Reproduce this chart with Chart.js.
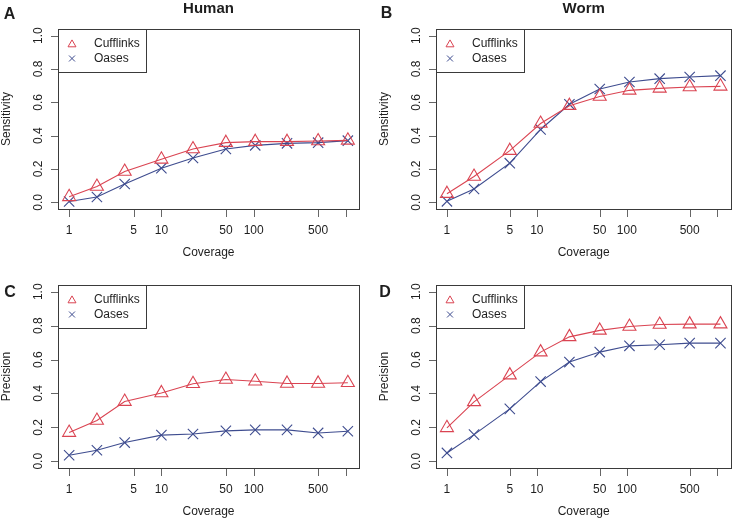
<!DOCTYPE html>
<html><head><meta charset="utf-8">
<script src="https://cdn.jsdelivr.net/npm/chart.js@4.4.1/dist/chart.umd.min.js"></script>
<style>
html,body{margin:0;padding:0;background:#fff;}
#wrap{position:relative;width:740px;height:522px;background:#fff;}
.p{position:absolute;width:370px;height:261px;}
canvas{display:block;}
</style></head><body>
<div id="wrap">
<div class="p" style="left:0;top:0"><canvas id="cA" width="370" height="261"></canvas></div>
<div class="p" style="left:370px;top:0"><canvas id="cB" width="370" height="261"></canvas></div>
<div class="p" style="left:0;top:261px"><canvas id="cC" width="370" height="261"></canvas></div>
<div class="p" style="left:370px;top:261px"><canvas id="cD" width="370" height="261"></canvas></div>
</div>
<script>
// ---- data ----
const humanCoverage = [1, 2, 4, 10, 22, 50, 104, 230, 500, 1050];
const wormCoverage  = [1, 2, 5, 11, 23, 50, 107, 232, 500, 1100];
const xTicks = [1, 5, 10, 50, 100, 500, 1000];
const xTickLabels = ['1', '5', '10', '50', '100', '500', ''];
const yTicks = [0, 0.2, 0.4, 0.6, 0.8, 1.0];
const yTickLabels = ['0.0', '0.2', '0.4', '0.6', '0.8', '1.0'];
const seriesNames = ['Cufflinks', 'Oases'];

const humanSensCufflinks = [0.033, 0.095, 0.185, 0.258, 0.32, 0.358, 0.364, 0.364, 0.368, 0.372];
const humanSensOases     = [0.005, 0.032, 0.11, 0.205, 0.266, 0.32, 0.342, 0.354, 0.358, 0.37];
const wormSensCufflinks  = [0.052, 0.155, 0.31, 0.473, 0.58, 0.635, 0.672, 0.684, 0.692, 0.696];
const wormSensOases      = [0.006, 0.08, 0.235, 0.437, 0.588, 0.68, 0.722, 0.742, 0.752, 0.76];
const humanPrecCufflinks = [0.169, 0.24, 0.352, 0.403, 0.457, 0.482, 0.472, 0.459, 0.459, 0.463];
const humanPrecOases     = [0.035, 0.065, 0.11, 0.154, 0.161, 0.179, 0.185, 0.185, 0.167, 0.177];
const wormPrecCufflinks  = [0.197, 0.35, 0.508, 0.644, 0.734, 0.772, 0.795, 0.807, 0.809, 0.809];
const wormPrecOases      = [0.049, 0.157, 0.309, 0.47, 0.585, 0.644, 0.681, 0.687, 0.697, 0.697];

// ---- styles ----
const RED = '#DA4452';
const BLUE = '#3E4C8F';
const TEXT = '#1e1e1e';
const FONT = '"Liberation Sans", Arial, Helvetica, sans-serif';

function drawMarker(ctx, style, r, x, y, color) {
  ctx.save();
  ctx.strokeStyle = color;
  ctx.lineWidth = 1;
  ctx.beginPath();
  if (style === 'triangle') {
    let rad = 0;
    ctx.moveTo(x + Math.sin(rad) * r, y - Math.cos(rad) * r);
    rad += 2 * Math.PI / 3;
    ctx.lineTo(x + Math.sin(rad) * r, y - Math.cos(rad) * r);
    rad += 2 * Math.PI / 3;
    ctx.lineTo(x + Math.sin(rad) * r, y - Math.cos(rad) * r);
    ctx.closePath();
  } else {
    const o = r * Math.SQRT1_2;
    ctx.moveTo(x - o, y - o); ctx.lineTo(x + o, y + o);
    ctx.moveTo(x + o, y - o); ctx.lineTo(x - o, y + o);
  }
  ctx.stroke();
  ctx.restore();
}

const framePlugin = {
  id: 'rframe',
  afterDraw(chart) {
    const cfg = chart.options.plugins.rframe;
    const ctx = chart.ctx;
    const { left, right, top, bottom } = chart.chartArea;
    const xs = chart.scales.x, ys = chart.scales.y;
    ctx.save();
    // box
    ctx.strokeStyle = '#3a3a3a';
    ctx.lineWidth = 1;
    ctx.strokeRect(Math.round(left) + 0.5, Math.round(top) + 0.5, Math.round(right - left), Math.round(bottom - top));
    // ticks
    ctx.strokeStyle = '#666';
    ctx.beginPath();
    yTicks.forEach(v => {
      const py = Math.round(ys.getPixelForValue(v)) + 0.5;
      ctx.moveTo(Math.round(left), py); ctx.lineTo(Math.round(left) - 7, py);
    });
    xTicks.forEach(v => {
      const px = Math.round(xs.getPixelForValue(v)) + 0.5;
      ctx.moveTo(px, Math.round(bottom) + 1); ctx.lineTo(px, Math.round(bottom) + 8);
    });
    ctx.stroke();
    // tick labels
    ctx.fillStyle = TEXT;
    ctx.font = '12px ' + FONT;
    ctx.textAlign = 'center';
    ctx.textBaseline = 'middle';
    xTicks.forEach((v, i) => {
      ctx.fillText(xTickLabels[i], xs.getPixelForValue(v), bottom + 22);
    });
    yTicks.forEach((v, i) => {
      ctx.save();
      ctx.translate(left - 19, ys.getPixelForValue(v));
      ctx.rotate(-Math.PI / 2);
      ctx.fillText(yTickLabels[i], 0, 0);
      ctx.restore();
    });
    // axis titles
    ctx.fillText('Coverage', (left + right) / 2, bottom + 44);
    ctx.save();
    ctx.translate(left - 51, (top + bottom) / 2);
    ctx.rotate(-Math.PI / 2);
    ctx.fillText(cfg.yTitle, 0, 0);
    ctx.restore();
    // main title
    if (cfg.title) {
      ctx.font = 'bold 15px ' + FONT;
      ctx.fillText(cfg.title, (left + right) / 2, 9);
    }
    // panel letter
    ctx.font = 'bold 16px ' + FONT;
    ctx.fillText(cfg.letter, cfg.letterPos[0], cfg.letterPos[1]);
    // legend
    const lx = Math.round(left), ly = Math.round(top);
    ctx.fillStyle = '#fff';
    ctx.fillRect(lx + 0.5, ly + 0.5, 88, 43);
    ctx.strokeStyle = '#3a3a3a';
    ctx.strokeRect(lx + 0.5, ly + 0.5, 88, 43);
    drawMarker(ctx, 'triangle', 4.6, lx + 14, ly + 15.5, RED);
    drawMarker(ctx, 'crossRot', 4.2, lx + 14, ly + 29.5, BLUE);
    ctx.fillStyle = TEXT;
    ctx.font = '12px ' + FONT;
    ctx.textAlign = 'left';
    ctx.fillText(seriesNames[0], lx + 36, ly + 15);
    ctx.fillText(seriesNames[1], lx + 36, ly + 29.5);
    ctx.restore();
  }
};

function mkData(cov, vals) { return cov.map((c, i) => ({ x: c, y: vals[i] })); }

function makePanel(id, cov, cuff, oases, opts) {
  const L = Math.log10(Math.max(...cov));
  const xmin = Math.pow(10, -0.04 * L);
  const xmax = Math.pow(10, L * 1.04);
  new Chart(document.getElementById(id), {
    type: 'line',
    data: {
      datasets: [
        { label: seriesNames[0], data: mkData(cov, cuff), borderColor: RED, borderWidth: 1.1,
          pointStyle: 'triangle', pointRadius: 7.5, pointBorderColor: RED, pointBorderWidth: 1.1,
          pointBackgroundColor: 'rgba(0,0,0,0)', tension: 0, fill: false, clip: false },
        { label: seriesNames[1], data: mkData(cov, oases), borderColor: BLUE, borderWidth: 1.1,
          pointStyle: 'crossRot', pointRadius: 7.3, pointBorderColor: BLUE, pointBorderWidth: 1.1,
          pointBackgroundColor: 'rgba(0,0,0,0)', tension: 0, fill: false, clip: false }
      ]
    },
    options: {
      responsive: false,
      animation: false,
      events: [],
      devicePixelRatio: 1,
      layout: { padding: opts.pad },
      scales: {
        x: { type: 'logarithmic', min: xmin, max: xmax, display: false },
        y: { type: 'linear', min: -0.04, max: 1.04, display: false }
      },
      plugins: {
        legend: { display: false },
        tooltip: { enabled: false },
        rframe: opts
      }
    },
    plugins: [framePlugin]
  });
}

makePanel('cA', humanCoverage, humanSensCufflinks, humanSensOases,
  { yTitle: 'Sensitivity', title: 'Human', letter: 'A', letterPos: [9.5, 15],
    pad: { left: 58, top: 29, right: 11, bottom: 52 } });
makePanel('cB', wormCoverage, wormSensCufflinks, wormSensOases,
  { yTitle: 'Sensitivity', title: 'Worm', letter: 'B', letterPos: [16.5, 14],
    pad: { left: 66, top: 29, right: 3, bottom: 52 } });
makePanel('cC', humanCoverage, humanPrecCufflinks, humanPrecOases,
  { yTitle: 'Precision', title: '', letter: 'C', letterPos: [10, 31.5],
    pad: { left: 58, top: 24, right: 11, bottom: 54 } });
makePanel('cD', wormCoverage, wormPrecCufflinks, wormPrecOases,
  { yTitle: 'Precision', title: '', letter: 'D', letterPos: [15, 31.5],
    pad: { left: 66, top: 24, right: 3, bottom: 54 } });
</script>
</body></html>
